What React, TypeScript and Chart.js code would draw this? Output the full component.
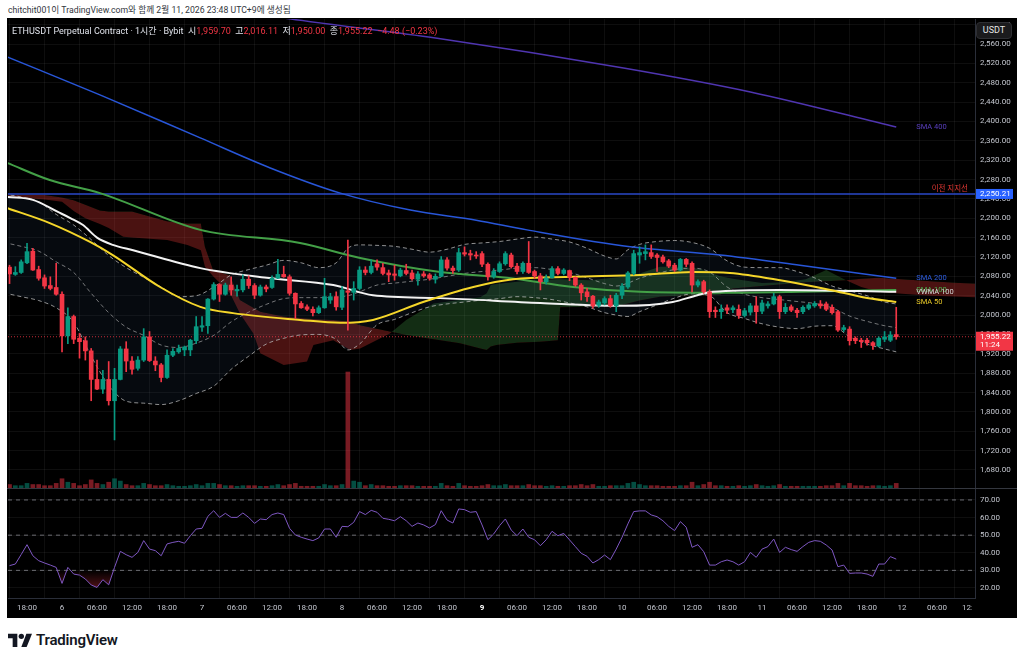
import React, { useEffect, useRef } from 'react';
import { Chart, registerables } from 'chart.js';

Chart.register(...registerables);

const FONT = "Roboto, 'Noto Sans CJK KR', 'Noto Sans', sans-serif";

// ---- x axis: hours counted from Feb 5, 18:00 (UTC+9) ----
const X_MIN = -3.26;
const X_MAX = 162.5;
const FIRST_CANDLE_HOUR = -3;
const TIME_TICK_STEP = 6;
const timeTickLabels = ['18:00', '6', '06:00', '12:00', '18:00', '7', '06:00', '12:00', '18:00', '8', '06:00', '12:00', '18:00', '9', '06:00', '12:00', '18:00', '10', '06:00', '12:00', '18:00', '11', '06:00', '12:00', '18:00', '12', '06:00', '12:00'];
const BOLD_TICK = '9';

// ---- price pane ----
const PRICE_MIN = 1642.7;
const PRICE_MAX = 2611.7;
const priceTicks = [1680, 1720, 1760, 1800, 1840, 1880, 1920, 1960, 2000, 2040, 2080, 2120, 2160, 2200, 2240, 2280, 2320, 2360, 2400, 2440, 2480, 2520, 2560, 2600];
const SUPPORT_LEVEL = 2250.21;
const SUPPORT_LABEL = '이전 지지선';
const LAST_PRICE = 1955.22;
const COUNTDOWN = '11:24';

// ---- RSI pane ----
const RSI_MIN = 14.3;
const RSI_MAX = 76.8;
const rsiTicks = [20, 30, 40, 50, 60, 70];
const rsiGuides = [70, 50, 30];
const RSI_OVERSOLD = 30;

// ---- volume (overlay at bottom of price pane) ----
const VOL_MIN = -94.8;
const VOL_MAX = 404.3;

// ---- 1h candles, Feb 5 15:00 .. Feb 11 23:00 ----
const candleOpen = [
  2099, 2084, 2088, 2108, 2132, 2094, 2077, 2061, 2057, 2043,
  1957, 1997, 1952, 1947, 1926, 1867, 1847, 1867, 1823, 1867,
  1930, 1905, 1890, 1907, 1955, 1905, 1897, 1871, 1917, 1924,
  1928, 1928, 1947, 1975, 1978, 2033, 2063, 2043, 2062, 2050,
  2052, 2074, 2061, 2041, 2058, 2057, 2076, 2084, 2079, 2045,
  2024, 2017, 2012, 2005, 2015, 2031, 2038, 2016, 2050, 2047,
  2055, 2093, 2088, 2106, 2098, 2087, 2085, 2081, 2092, 2087,
  2074, 2085, 2083, 2074, 2080, 2114, 2097, 2093, 2129, 2127,
  2124, 2127, 2105, 2079, 2090, 2106, 2124, 2101, 2090, 2107,
  2090, 2081, 2069, 2077, 2096, 2086, 2092, 2078, 2062, 2048,
  2039, 2020, 2025, 2034, 2019, 2041, 2058, 2086, 2124, 2127,
  2129, 2124, 2120, 2112, 2103, 2093, 2115, 2107, 2062, 2069,
  2048, 2010, 2007, 2015, 2011, 2012, 1999, 2006, 2019, 2008,
  2019, 2023, 2038, 2007, 2017, 2010, 2007, 2014, 2019, 2023,
  2023, 2016, 2007, 1970, 1971, 1952, 1948, 1948, 1943, 1936,
  1950, 1948, 1959.7,
];
const candleHigh = [
  2103, 2100, 2114, 2148, 2138, 2101, 2083, 2079, 2107, 2048,
  2015, 2000, 1962, 1955, 1931, 1907, 1886, 1904, 1890, 1935,
  1945, 1914, 1914, 1972, 1966, 1914, 1900, 1928, 1931, 1938,
  1936, 1950, 1997, 1997, 2034, 2067, 2065, 2066, 2079, 2062,
  2083, 2081, 2065, 2062, 2062, 2081, 2115, 2101, 2083, 2046,
  2028, 2021, 2017, 2019, 2076, 2045, 2048, 2059, 2155, 2069,
  2100, 2100, 2114, 2114, 2107, 2093, 2103, 2097, 2105, 2093,
  2090, 2090, 2086, 2085, 2121, 2119, 2101, 2138, 2141, 2134,
  2131, 2131, 2108, 2096, 2110, 2131, 2128, 2107, 2110, 2152,
  2093, 2086, 2083, 2100, 2100, 2096, 2093, 2079, 2065, 2055,
  2041, 2031, 2038, 2041, 2045, 2065, 2090, 2134, 2141, 2145,
  2145, 2127, 2124, 2115, 2107, 2117, 2117, 2110, 2073, 2072,
  2052, 2017, 2021, 2021, 2019, 2021, 2014, 2024, 2038, 2031,
  2028, 2045, 2041, 2024, 2021, 2014, 2019, 2024, 2028, 2030,
  2027, 2021, 2010, 1979, 1976, 1955, 1952, 1952, 1945, 1955,
  1966, 1966, 2016.11,
];
const candleLow = [
  2065, 2082, 2086, 2106, 2092, 2072, 2055, 2052, 2041, 1924,
  1941, 1941, 1911, 1907, 1823, 1846, 1838, 1814, 1742, 1866,
  1883, 1878, 1886, 1904, 1904, 1885, 1862, 1869, 1914, 1921,
  1916, 1916, 1941, 1966, 1962, 2031, 2028, 2041, 2041, 2039,
  2048, 2055, 2034, 2039, 2048, 2055, 2075, 2078, 2041, 1993,
  2014, 2009, 1998, 2003, 2014, 2024, 2010, 2011, 1969, 2031,
  2052, 2083, 2085, 2093, 2083, 2069, 2072, 2079, 2083, 2072,
  2062, 2078, 2072, 2066, 2079, 2093, 2086, 2090, 2122, 2114,
  2117, 2100, 2072, 2076, 2088, 2103, 2097, 2085, 2086, 2086,
  2076, 2052, 2064, 2076, 2083, 2083, 2071, 2059, 2031, 2028,
  2014, 2016, 2021, 2016, 2007, 2034, 2055, 2083, 2107, 2114,
  2117, 2090, 2107, 2098, 2090, 2091, 2100, 2048, 2058, 2045,
  1995, 1995, 1993, 2003, 2005, 1993, 1996, 2000, 1983, 2003,
  2014, 2021, 1993, 2003, 2007, 1995, 2003, 2011, 2016, 2014,
  2009, 2002, 1966, 1966, 1938, 1941, 1933, 1938, 1929, 1934,
  1945, 1945, 1950.0,
];
const candleClose = [
  2085, 2088, 2110, 2131, 2093, 2076, 2060, 2055, 2043, 1957,
  1997, 1950, 1945, 1926, 1867, 1847, 1867, 1823, 1867, 1930,
  1905, 1888, 1907, 1955, 1906, 1897, 1871, 1917, 1925, 1931,
  1934, 1948, 1976, 1978, 2033, 2063, 2043, 2062, 2052, 2053,
  2074, 2061, 2041, 2058, 2054, 2076, 2084, 2079, 2045, 2023,
  2015, 2012, 2005, 2015, 2038, 2038, 2017, 2052, 2047, 2055,
  2093, 2088, 2101, 2099, 2086, 2083, 2082, 2093, 2086, 2075,
  2085, 2081, 2076, 2080, 2114, 2097, 2092, 2129, 2126, 2124,
  2122, 2105, 2079, 2090, 2106, 2127, 2100, 2090, 2107, 2088,
  2081, 2069, 2077, 2096, 2086, 2093, 2078, 2062, 2046, 2038,
  2019, 2027, 2034, 2019, 2041, 2060, 2087, 2127, 2129, 2131,
  2121, 2119, 2110, 2101, 2093, 2115, 2105, 2062, 2069, 2048,
  2007, 2007, 2012, 2010, 2015, 1999, 2009, 2019, 2007, 2025,
  2023, 2038, 2007, 2016, 2010, 2005, 2016, 2021, 2024, 2019,
  2012, 2005, 1969, 1974, 1947, 1947, 1945, 1943, 1937, 1952,
  1955, 1959, 1955.22,
];
const volume = [
  3, 2, 2, 4, 3, 3, 2, 2, 4, 8,
  5, 4, 2, 3, 7, 4, 3, 5, 8, 6,
  3, 2, 2, 4, 3, 2, 2, 3, 2, 1.5,
  1.5, 2, 3, 2, 4, 4, 3, 2, 2, 1.5,
  2, 2, 2, 1.5, 1.5, 2, 3, 2, 3, 4,
  1.5, 1.5, 1.5, 1.5, 3, 2, 2, 3, 100, 6,
  5, 2, 3, 2, 2, 1.5, 1.5, 2, 2, 2,
  1.5, 1.5, 1.5, 1.5, 4, 2, 1.5, 4, 2, 1.5,
  1.5, 2, 3, 2, 2, 3, 2, 2, 2, 3,
  2, 2, 1.5, 2, 1.5, 1.5, 2, 2, 3, 2,
  3, 1.5, 1.5, 2, 2, 2, 4, 5, 3, 2,
  2, 2, 1.5, 1.5, 1.5, 2, 2, 5, 2, 3,
  5, 2, 2, 1.5, 1.5, 2, 1.5, 2, 3, 2,
  1.5, 2, 3, 1.5, 1.5, 1.5, 1.5, 1.5, 1.5, 1.5,
  2, 2, 4, 2, 4, 2, 2, 1.5, 2, 2,
  1.5, 2, 4,
];
const rsiValues = [
  32.7, 33.6, 39, 44.6, 38.3, 35.5, 34.2, 33, 31.7, 22.6,
  31.7, 27.9, 27.3, 25.1, 21.7, 20.3, 24.7, 21.8, 31.7, 40.8,
  38.9, 37.4, 40.2, 46.9, 42.1, 41.2, 38.3, 45, 45.9, 46.5,
  45.4, 49.7, 53.5, 53.9, 60.7, 63.9, 60.1, 62.4, 60.1, 60.1,
  62.6, 60.1, 56.7, 59.2, 58.8, 61.7, 62.6, 61.7, 53.9, 50.1,
  48.8, 47.8, 46.9, 48.4, 53.5, 53.5, 48.8, 55, 54.8, 57.3,
  63.4, 61.7, 64.1, 63, 59.6, 59, 58.2, 60.5, 58.2, 55,
  56.9, 55.8, 54.1, 56, 63.9, 58.6, 56.9, 64.9, 64.5, 63,
  63.4, 55.8, 47.4, 50.7, 55.4, 59.2, 52.9, 49.7, 53.5, 48.8,
  47.4, 44, 47.4, 52.2, 49.7, 51, 47.3, 43.5, 39.7, 38,
  34.2, 36.1, 38.7, 36.1, 42.1, 48.8, 56.4, 63.4, 63.8, 63.8,
  61.5, 60.5, 58.2, 55, 52.6, 57.7, 54.5, 43.1, 44.6, 40.6,
  33, 33, 34.9, 35.9, 34.9, 33, 34.9, 40.2, 37.4, 42.1,
  43.5, 47.8, 40.2, 43.1, 41.8, 40.8, 43.5, 45.9, 46.9, 46.5,
  44.4, 41.6, 32.1, 33, 28.3, 28.5, 28.5, 27.9, 26.6, 33.6,
  33.6, 37.8, 36.4,
];

// ---- moving averages (read at sample hours) ----
const sma50Hours = [-3.4, 3.9, 10.8, 14.7, 22.8, 29.7, 35.3, 46.8, 53.7, 59.3, 67.9, 76.5, 83.3, 93.6, 105.1, 114.2, 120.5, 129.1, 137.7, 143.3, 149];
const sma50Values = [2221, 2190, 2151, 2124, 2058, 2017, 2004, 1990, 1984, 1990, 2027, 2058, 2074, 2079, 2083, 2089, 2087, 2072, 2052, 2037, 2027];
const sma100Hours = [-3.3, 3.9, 12.5, 29.7, 46.8, 57.1, 70.8, 82.3, 93.6, 105.1, 118.8, 132.5, 149];
const sma100Values = [2314, 2279, 2252, 2176, 2149, 2118, 2089, 2077, 2058, 2048, 2046, 2048, 2052];
const vwmaHours = [-3.3, 1, 5.3, 7.5, 9.6, 12, 14.7, 18.2, 29.7, 41.1, 52.5, 59.3, 70.8, 88, 102.2, 110.7, 114.9, 117.6, 129, 149];
const vwmaValues = [2244, 2238, 2213, 2200, 2186, 2160, 2145, 2134, 2097, 2077, 2062, 2041, 2035, 2025, 2019, 2027, 2041, 2048, 2052, 2048];
const sma200Hours = [-3.3, 12.5, 29.7, 41.7, 53.7, 65.7, 77, 85.7, 103.4, 118.8, 132.5, 149];
const sma200Values = [2533, 2455, 2366, 2304, 2252, 2217, 2196, 2176, 2141, 2124, 2103, 2076];
const sma400Hours = [30, 45, 70.3, 102.5, 124, 149];
const sma400Values = [2640, 2612, 2572, 2510, 2461, 2388.5];

// ---- Bollinger bands ----
const bbHours = [-4, -1, 2, 5, 8, 11, 14, 17, 20, 23, 26, 29, 32, 35, 38, 41, 44, 47, 50, 53, 55, 57, 60, 63, 66, 69, 72, 75, 78, 81, 84, 87, 90, 93, 96, 99, 101, 103, 105, 108, 111, 114, 117, 120, 123, 126, 129, 132, 135, 138, 141, 144, 147, 149];
const bbUpper = [2250, 2244, 2234, 2208, 2186, 2156, 2123, 2098, 2078, 2058, 2038, 2040, 2058, 2083, 2094, 2103, 2113, 2108, 2098, 2108, 2138, 2145, 2144, 2142, 2136, 2130, 2136, 2146, 2149, 2152, 2157, 2161, 2157, 2151, 2138, 2122, 2116, 2135, 2146, 2152, 2154, 2150, 2138, 2112, 2099, 2098, 2098, 2090, 2077, 2060, 2050, 2040, 2027, 2023];
const bbBasis = [2150, 2142, 2132, 2110, 2088, 2045, 2005, 1975, 1958, 1938, 1933, 1942, 1958, 1986, 2006, 2022, 2034, 2036, 2036, 2037, 2040, 2048, 2062, 2066, 2070, 2074, 2080, 2086, 2090, 2093, 2097, 2098, 2094, 2088, 2077, 2065, 2060, 2066, 2076, 2086, 2094, 2097, 2089, 2058, 2043, 2036, 2032, 2028, 2024, 2015, 1998, 1987, 1978, 1974];
const bbLower = [2046, 2038, 2030, 2015, 1985, 1915, 1855, 1822, 1818, 1815, 1823, 1838, 1853, 1888, 1915, 1940, 1952, 1959, 1960, 1950, 1928, 1940, 1980, 1991, 2005, 2017, 2023, 2027, 2031, 2034, 2038, 2036, 2032, 2025, 2017, 2005, 2000, 1997, 2007, 2021, 2035, 2044, 2040, 2005, 1993, 1982, 1975, 1972, 1977, 1978, 1955, 1940, 1930, 1924];

// ---- Ichimoku cloud ----
const cloudHours = [-4, -1, 3, 6, 8, 10, 12.5, 14, 16.5, 18, 24, 27.5, 29.8, 30.5, 31.9, 34.8, 36.5, 38.8, 40, 44, 48, 49.1, 52.5, 55.4, 57.1, 62.2, 65, 69.7, 74.2, 77.7, 78.8, 79.5, 80.5, 84, 88, 91, 91.4, 96.5, 102, 105, 108.5, 112, 115.5, 118.8, 121, 126, 130, 133.5, 137, 140.4, 143, 146, 150, 155, 160, 164];
const spanA = [2246, 2243, 2239, 2234, 2215, 2200, 2188, 2180, 2162, 2160, 2155, 2145, 2134, 2100, 2080, 2045, 2003, 1962, 1921, 1897, 1904, 1938, 1948, 1928, 1931, 1962, 1990, 2024, 2031, 2037, 2045, 2062, 2064, 2069, 2072, 2074, 2074, 2072, 2079, 2086, 2100, 2100, 2095, 2080, 2075, 2066, 2068, 2074, 2093, 2072, 2058, 2048, 2044, 2040, 2038, 2036];
const spanB = [2249, 2248, 2248, 2243, 2237, 2228, 2216, 2214, 2214, 2214, 2194, 2189, 2189, 2141, 2093, 2082, 2031, 2015, 2007, 1997, 1993, 1992, 1990, 1986, 1979, 1966, 1959, 1950, 1942, 1931, 1928, 1935, 1938, 1943, 1945, 1948, 2016, 2017, 2021, 2030, 2038, 2040, 2040, 2042, 2055, 2060, 2064, 2068, 2070, 2072, 2075, 2077, 2074, 2070, 2066, 2065];

const UP = '#089981';
const DOWN = '#f23645';

const fmt = (v: number) => v.toLocaleString('en-US', { minimumFractionDigits: 2, maximumFractionDigits: 2 });
const pts = (xs: number[], ys: number[]) => xs.map((x, i) => ({ x, y: ys[i] }));
const noPad = (s: any) => { s.paddingTop = 0; s.paddingBottom = 0; s.paddingLeft = 0; s.paddingRight = 0; };

const endLabelPlugin = {
  id: 'endLabels',
  afterDatasetsDraw(chart: any) {
    const { ctx, scales } = chart;
    const xs = scales.x;
    const ys = scales.y;
    const lastHour = FIRST_CANDLE_HOUR + candleClose.length - 1;
    ctx.save();
    ctx.font = `7.5px ${FONT}`;
    ctx.textBaseline = 'middle';
    chart.data.datasets.forEach((ds: any) => {
      if (!ds.endLabel) return;
      const last = ds.data[ds.data.length - 1];
      ctx.fillStyle = ds.endLabelColor;
      ctx.textAlign = 'left';
      ctx.fillText(ds.endLabel, xs.getPixelForValue(lastHour) + 20, ys.getPixelForValue(last.y));
    });
    ctx.font = `7.5px ${FONT}`;
    ctx.fillStyle = '#e53935';
    ctx.textAlign = 'right';
    ctx.textBaseline = 'bottom';
    ctx.fillText(SUPPORT_LABEL, chart.chartArea.right - 7, ys.getPixelForValue(SUPPORT_LEVEL) - 1);
    ctx.restore();
  },
};

const priceBoxPlugin = {
  id: 'priceBoxes',
  afterDraw(chart: any) {
    const { ctx, chartArea } = chart;
    const ys = chart.scales.y;
    ctx.save();
    // the time scale ends where the price scale begins
    ctx.fillStyle = '#000000';
    ctx.fillRect(chartArea.right - 3, chartArea.bottom + 1, chart.width - chartArea.right + 3, chart.height - chartArea.bottom);
    const left = ys.left + 1;
    const w = ys.right - ys.left - 5;
    ctx.font = `8px ${FONT}`;
    ctx.textBaseline = 'middle';
    ctx.textAlign = 'left';
    let py = ys.getPixelForValue(SUPPORT_LEVEL);
    ctx.fillStyle = '#2962ff';
    ctx.fillRect(left, py - 5, w, 10);
    ctx.fillStyle = '#ffffff';
    ctx.fillText(fmt(SUPPORT_LEVEL), left + 4, py);
    py = ys.getPixelForValue(LAST_PRICE);
    ctx.fillStyle = DOWN;
    ctx.fillRect(left, py - 5, w, 19);
    ctx.fillStyle = '#ffffff';
    ctx.fillText(fmt(LAST_PRICE), left + 4, py);
    ctx.fillText(COUNTDOWN, left + 4, py + 8);
    ctx.restore();
  },
};

function buildConfig(): any {
  const candleHours = candleOpen.map((_, i) => FIRST_CANDLE_HOUR + i);
  const candleColors = candleOpen.map((o, i) => (candleClose[i] >= o ? UP : DOWN));
  const volColors = candleOpen.map((o, i) => (candleClose[i] >= o ? 'rgba(8,153,129,0.5)' : 'rgba(242,54,69,0.5)'));

  const datasets: any[] = [];
  const add = (d: any) => { datasets.push(d); return datasets.length - 1; };
  const line = (data: any[], color: string, width: number, order: number, extra: any = {}) => ({
    type: 'line', data, borderColor: color, borderWidth: width, pointRadius: 0,
    cubicInterpolationMode: 'monotone', fill: false, yAxisID: 'y', order, ...extra,
  });

  add({
    type: 'bar', data: candleHours.map((h, i) => ({ x: h, y: [candleOpen[i], candleClose[i]] })),
    backgroundColor: candleColors, barThickness: 4, grouped: false, minBarLength: 1, yAxisID: 'y', order: 0,
  });
  add({
    type: 'bar', data: candleHours.map((h, i) => ({ x: h, y: [candleLow[i], candleHigh[i]] })),
    backgroundColor: candleColors, barThickness: 1, grouped: false, yAxisID: 'y', order: 1,
  });
  add(line(pts(sma50Hours, sma50Values), '#f5d62a', 2, 2, { endLabel: 'SMA 50', endLabelColor: '#e8c928' }));
  add(line(pts(sma100Hours, sma100Values), '#43a047', 2, 4, { endLabel: 'SMA 100', endLabelColor: '#4caf50' }));
  add(line(pts(vwmaHours, vwmaValues), '#f2f2f2', 2, 3, { endLabel: 'VWMA 100', endLabelColor: '#d8d8d8' }));
  add(line(pts(sma200Hours, sma200Values), '#2856d8', 1.5, 5, { endLabel: 'SMA 200', endLabelColor: '#2f5ee0' }));
  add(line(pts(sma400Hours, sma400Values), '#4f35b0', 1.5, 5, { endLabel: 'SMA 400', endLabelColor: '#5a3fc0' }));
  add(line([{ x: X_MIN, y: SUPPORT_LEVEL }, { x: X_MAX, y: SUPPORT_LEVEL }], '#2a48c8', 1.5, 6));
  add(line([{ x: X_MIN, y: LAST_PRICE }, { x: X_MAX, y: LAST_PRICE }], 'rgba(242,54,69,0.8)', 1, 6, { borderDash: [1, 2] }));

  const bbDash = { borderDash: [4, 3] };
  const lowerIdx = add(line(pts(bbHours, bbLower), 'rgba(190,190,190,0.75)', 1, 7, bbDash));
  add(line(pts(bbHours, bbBasis), 'rgba(190,190,190,0.6)', 1, 7, bbDash));
  add(line(pts(bbHours, bbUpper), 'rgba(190,190,190,0.75)', 1, 7, {
    ...bbDash, fill: { target: lowerIdx, above: 'rgba(70,110,170,0.09)', below: 'rgba(70,110,170,0.09)' },
  }));

  const spanBIdx = add(line(pts(cloudHours, spanB), 'rgba(0,0,0,0)', 0, 10, { cubicInterpolationMode: 'default', tension: 0 }));
  add(line(pts(cloudHours, spanA), 'rgba(0,0,0,0)', 0, 10, {
    cubicInterpolationMode: 'default', tension: 0,
    fill: { target: spanBIdx, above: 'rgba(67,160,71,0.28)', below: 'rgba(229,57,53,0.32)' },
  }));

  add({
    type: 'bar', data: candleHours.map((h, i) => ({ x: h, y: volume[i] })),
    backgroundColor: volColors, barThickness: 4, grouped: false, yAxisID: 'yVol', order: 12,
  });

  add({
    type: 'line', data: candleHours.map((h, i) => ({ x: h, y: rsiValues[i] })), yAxisID: 'yRsi',
    borderColor: '#7e57c2', borderWidth: 1, pointRadius: 0, order: 2,
    backgroundColor: (c: any) => {
      const s = c.chart.scales.yRsi;
      if (!s || !c.chart.chartArea) return 'rgba(242,54,69,0.3)';
      const g = c.chart.ctx.createLinearGradient(0, s.getPixelForValue(RSI_OVERSOLD), 0, s.getPixelForValue(0));
      g.addColorStop(0, 'rgba(242,54,69,0)');
      g.addColorStop(1, 'rgba(242,54,69,1)');
      return g;
    },
    fill: { target: { value: RSI_OVERSOLD }, above: 'rgba(0,0,0,0)' },
  });
  rsiGuides.forEach((g) => add({
    type: 'line', data: [{ x: X_MIN, y: g }, { x: X_MAX, y: g }], yAxisID: 'yRsi',
    borderColor: 'rgba(140,142,150,0.75)', borderWidth: 1, borderDash: [4, 4], pointRadius: 0, order: 3,
  }));

  const gridColor = 'rgba(255,255,255,0.055)';
  const tickColor = '#c3c6ce';

  return {
    type: 'line',
    data: { datasets },
    options: {
      animation: false,
      responsive: false,
      maintainAspectRatio: false,
      devicePixelRatio: 1,
      events: [],
      layout: { padding: { left: 1, top: 1, right: 0, bottom: 0 } },
      plugins: { legend: { display: false }, tooltip: { enabled: false } },
      scales: {
        x: {
          type: 'linear', axis: 'x', position: 'bottom', min: X_MIN, max: X_MAX, offset: false,
          afterBuildTicks: (s: any) => { s.ticks = timeTickLabels.map((_, i) => ({ value: i * TIME_TICK_STEP })); },
          afterFit: (s: any) => { s.height = 20; noPad(s); },
          ticks: {
            autoSkip: false, maxRotation: 0, padding: 5,
            callback: (v: number) => timeTickLabels[Math.round(v / TIME_TICK_STEP)] ?? '',
            color: (c: any) => (timeTickLabels[c.index] === BOLD_TICK ? '#ffffff' : tickColor),
            font: (c: any) => ({ family: FONT, size: 8, weight: timeTickLabels[c.index] === BOLD_TICK ? 'bold' : 'normal' }),
          },
          grid: { color: gridColor, drawTicks: false },
          border: { display: true, color: '#2a2e39' },
        },
        y: {
          type: 'linear', axis: 'y', position: 'right', stack: 'panes', stackWeight: 469,
          min: PRICE_MIN, max: PRICE_MAX,
          afterBuildTicks: (s: any) => { s.ticks = priceTicks.map((value) => ({ value })); },
          afterFit: (s: any) => { s.width = 42; noPad(s); },
          ticks: { autoSkip: false, padding: 5, color: tickColor, font: { family: FONT, size: 8 }, callback: (v: number) => fmt(v) },
          grid: { color: gridColor, drawTicks: false },
          border: { display: true, color: '#2a2e39' },
        },
        yRsi: {
          type: 'linear', axis: 'y', position: 'right', stack: 'panes', stackWeight: 110,
          min: RSI_MIN, max: RSI_MAX,
          afterBuildTicks: (s: any) => { s.ticks = rsiTicks.map((value) => ({ value })); },
          afterFit: (s: any) => { s.width = 42; noPad(s); },
          ticks: { autoSkip: false, padding: 5, color: tickColor, font: { family: FONT, size: 8 }, callback: (v: number) => fmt(v) },
          grid: { color: gridColor, drawTicks: false },
          border: { display: true, color: '#2a2e39' },
        },
        yVol: { type: 'linear', axis: 'y', position: 'left', display: false, min: VOL_MIN, max: VOL_MAX, afterFit: noPad },
      },
    },
    plugins: [endLabelPlugin, priceBoxPlugin],
  };
}

export default function App() {
  const ref = useRef<HTMLCanvasElement>(null);
  useEffect(() => {
    const chart = new Chart(ref.current as HTMLCanvasElement, buildConfig());
    return () => chart.destroy();
  }, []);

  const red = { color: '#f23645' };
  return (
    <div style={{ position: 'absolute', left: 0, top: 0, width: 1024, height: 661, background: '#ffffff', fontFamily: FONT, overflow: 'hidden' }}>
      <div style={{ position: 'absolute', left: 8, top: 3, fontSize: 8.7, color: '#333740', whiteSpace: 'nowrap' }}>
        chitchit001이 TradingView.com와 함께 2월 11, 2026 23:48 UTC+9에 생성됨
      </div>
      <div style={{ position: 'absolute', left: 7, top: 18, width: 1010, height: 600, background: '#000000' }}>
        <canvas ref={ref} width={1010} height={600} style={{ position: 'absolute', left: 0, top: 0, width: 1010, height: 600 }} />
        <div style={{ position: 'absolute', left: 0, top: 470, width: 1010, height: 1, background: '#34373f' }} />
        <div style={{ position: 'absolute', left: 5, top: 6, fontSize: 9, color: '#e0e3eb', whiteSpace: 'nowrap' }}>
          ETHUSDT Perpetual Contract · 1시간 · Bybit&nbsp;&nbsp;시<span style={red}>1,959.70</span>&nbsp;&nbsp;고<span style={red}>2,016.11</span>&nbsp;&nbsp;저<span style={red}>1,950.00</span>&nbsp;&nbsp;종<span style={red}>1,955.22</span>&nbsp;&nbsp;<span style={red}>−4.48 (−0.23%)</span>
        </div>
        <div style={{ position: 'absolute', left: 969, top: 4, width: 36, height: 17, boxSizing: 'border-box', background: '#1b1b1d', border: '1px solid #2e2f33', borderRadius: 4, color: '#e6e6e6', fontSize: 9, lineHeight: '15px', textAlign: 'center' }}>
          USDT
        </div>
      </div>
      <div style={{ position: 'absolute', left: 8, top: 631, display: 'flex', alignItems: 'center', gap: 4 }}>
        <svg width="24" height="14" viewBox="0 0 36 21">
          <path d="M14 21H7V8H0V1h14v20z" fill="#131722" />
          <circle cx="20" cy="5" r="4" fill="#131722" />
          <path d="M28 21h-8L27.5 1H36L28 21z" fill="#131722" />
        </svg>
        <span style={{ fontSize: 15, fontWeight: 600, color: '#131722', letterSpacing: -0.2 }}>TradingView</span>
      </div>
    </div>
  );
}
